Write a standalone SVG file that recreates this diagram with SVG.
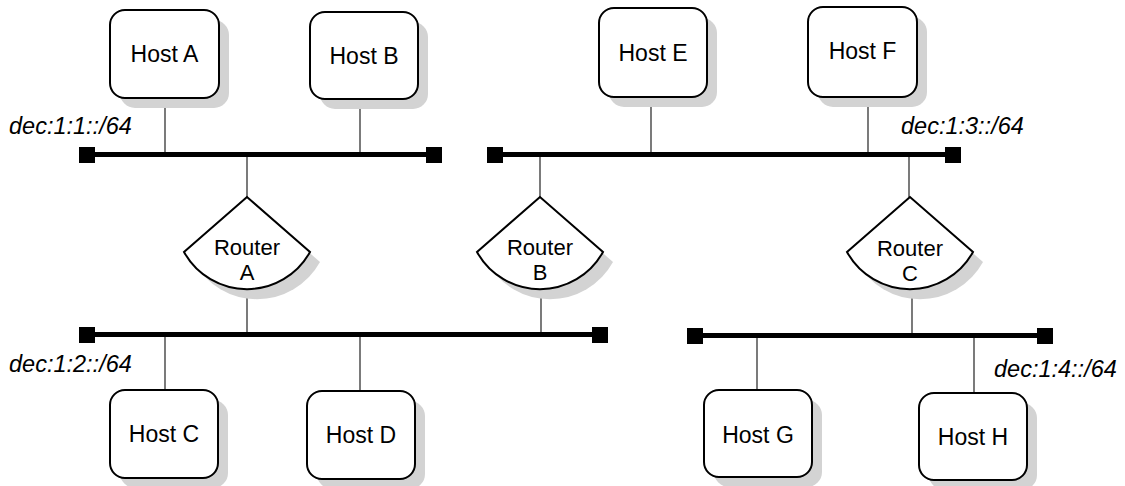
<svg xmlns="http://www.w3.org/2000/svg" width="1125" height="486" viewBox="0 0 1125 486">
<style>
.box{fill:#fff;stroke:#000;stroke-width:2}
.shadow{fill:#d3d3d3;stroke:none}
.lbl{font-family:"Liberation Sans",Arial,sans-serif;font-size:23px;fill:#000;text-anchor:middle}
.rl{font-size:22px}
.net{font-family:"Liberation Sans",Arial,sans-serif;font-size:23.5px;font-style:italic;fill:#000}
.link{stroke:#222;stroke-width:1.2;fill:none}
.bus{stroke:#000;stroke-width:5;fill:none}
.end{fill:#000}
</style>
<defs>
<path id="router" d="M0 0 L-63 55 A72 72 0 0 0 63 55 Z"/>
</defs>
<g id="connectors">
<line class="link" x1="165" y1="98" x2="165" y2="154"/>
<line class="link" x1="360" y1="99" x2="360" y2="154"/>
<line class="link" x1="247" y1="154" x2="247" y2="197"/>
<line class="link" x1="247" y1="291" x2="247" y2="335"/>
<line class="link" x1="651" y1="97" x2="651" y2="154"/>
<line class="link" x1="868" y1="97" x2="868" y2="154"/>
<line class="link" x1="540" y1="154" x2="540" y2="197"/>
<line class="link" x1="541" y1="291" x2="541" y2="335"/>
<line class="link" x1="909" y1="154" x2="909" y2="197"/>
<line class="link" x1="912" y1="291" x2="912" y2="336"/>
<line class="link" x1="165" y1="335" x2="165" y2="390"/>
<line class="link" x1="360" y1="335" x2="360" y2="391"/>
<line class="link" x1="757" y1="336" x2="757" y2="390"/>
<line class="link" x1="974" y1="336" x2="974" y2="393"/>
</g>
<g id="bus1">
<line class="bus" x1="87" y1="154.5" x2="434" y2="154.5"/>
<rect class="end" x="79" y="147" width="16" height="16"/>
<rect class="end" x="426" y="147" width="16" height="16"/>
</g>
<g id="bus2">
<line class="bus" x1="495" y1="154.5" x2="953" y2="154.5"/>
<rect class="end" x="487" y="147" width="16" height="16"/>
<rect class="end" x="945" y="147" width="16" height="16"/>
</g>
<g id="bus3">
<line class="bus" x1="87" y1="334.5" x2="600" y2="334.5"/>
<rect class="end" x="79" y="327" width="16" height="16"/>
<rect class="end" x="592" y="327" width="16" height="16"/>
</g>
<g id="bus4">
<line class="bus" x1="695" y1="335.5" x2="1044" y2="335.5"/>
<rect class="end" x="687" y="328" width="16" height="16"/>
<rect class="end" x="1037" y="328" width="16" height="16"/>
</g>
<g id="hostA">
<rect class="shadow" x="120" y="20" width="109" height="88" rx="15"/>
<rect class="box" x="110" y="10" width="109" height="88" rx="15"/>
<text class="lbl" x="164.5" y="62">Host A</text>
</g>
<g id="hostB">
<rect class="shadow" x="320" y="22" width="108" height="87" rx="15"/>
<rect class="box" x="310" y="12" width="108" height="87" rx="15"/>
<text class="lbl" x="364" y="64">Host B</text>
</g>
<g id="hostE">
<rect class="shadow" x="609" y="18" width="108" height="89" rx="15"/>
<rect class="box" x="599" y="8" width="108" height="89" rx="15"/>
<text class="lbl" x="653" y="61">Host E</text>
</g>
<g id="hostF">
<rect class="shadow" x="818" y="17" width="109" height="90" rx="15"/>
<rect class="box" x="808" y="7" width="109" height="90" rx="15"/>
<text class="lbl" x="862.5" y="59">Host F</text>
</g>
<g id="hostC">
<rect class="shadow" x="120" y="400" width="108" height="88" rx="15"/>
<rect class="box" x="110" y="390" width="108" height="88" rx="15"/>
<text class="lbl" x="164" y="442">Host C</text>
</g>
<g id="hostD">
<rect class="shadow" x="317" y="401" width="108" height="88" rx="15"/>
<rect class="box" x="307" y="391" width="108" height="88" rx="15"/>
<text class="lbl" x="361" y="443">Host D</text>
</g>
<g id="hostG">
<rect class="shadow" x="714" y="400" width="108" height="87" rx="15"/>
<rect class="box" x="704" y="390" width="108" height="87" rx="15"/>
<text class="lbl" x="758" y="443">Host G</text>
</g>
<g id="hostH">
<rect class="shadow" x="929" y="403" width="108" height="87" rx="15"/>
<rect class="box" x="919" y="393" width="108" height="87" rx="15"/>
<text class="lbl" x="973" y="445">Host H</text>
</g>
<g id="routerA">
<use href="#router" class="shadow" transform="translate(257 207)"/>
<use href="#router" class="box" transform="translate(247 197)"/>
<text class="lbl rl" x="247" y="255">Router</text>
<text class="lbl rl" x="247" y="280">A</text>
</g>
<g id="routerB">
<use href="#router" class="shadow" transform="translate(550 207)"/>
<use href="#router" class="box" transform="translate(540 197)"/>
<text class="lbl rl" x="540" y="255">Router</text>
<text class="lbl rl" x="540" y="280">B</text>
</g>
<g id="routerC">
<use href="#router" class="shadow" transform="translate(920 207)"/>
<use href="#router" class="box" transform="translate(910 197)"/>
<text class="lbl rl" x="910" y="256">Router</text>
<text class="lbl rl" x="910" y="281">C</text>
</g>
<g id="labels">
<text class="net" x="9" y="134">dec:1:1::/64</text>
<text class="net" x="901" y="134">dec:1:3::/64</text>
<text class="net" x="9" y="372">dec:1:2::/64</text>
<text class="net" x="994" y="377">dec:1:4::/64</text>
</g>
</svg>
